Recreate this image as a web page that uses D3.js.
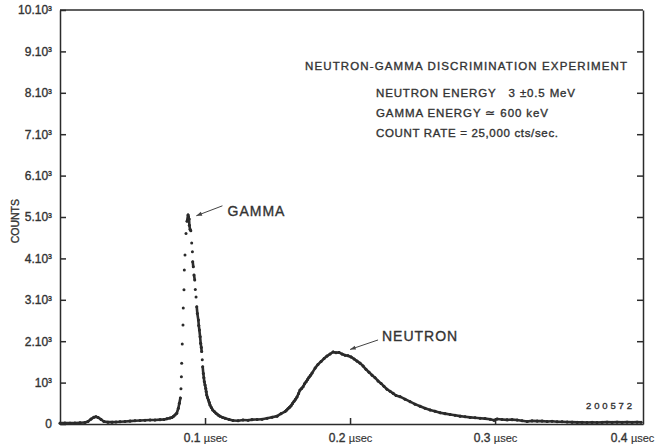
<!DOCTYPE html>
<html>
<head>
<meta charset="utf-8">
<script src="https://cdn.jsdelivr.net/npm/d3@7"></script>
<style>
  body { margin: 0; background: #fff; }
  svg { display: block; }
  text { font-family: "Liberation Sans", Arial, sans-serif; fill: #333; stroke: #333; stroke-width: 0.35px; }
</style>
</head>
<body>
<div id="chart"></div>
<script>
// time of flight (µsec) and counts per channel
const timeUs = [
  0.0000, 0.0034, 0.0069, 0.0103, 0.0138, 0.0172, 0.0193, 0.0214, 0.0234, 0.0248,
  0.0262, 0.0283, 0.0303, 0.0331, 0.0359, 0.0386, 0.0414, 0.0448, 0.0483, 0.0517,
  0.0552, 0.0586, 0.0621, 0.0655, 0.0690, 0.0717, 0.0738, 0.0759, 0.0772, 0.0781,
  0.0793, 0.0805, 0.0816, 0.0823, 0.0830, 0.0834, 0.0837, 0.0839, 0.0843, 0.0848,
  0.0850, 0.0855, 0.0857, 0.0862, 0.0869, 0.0876, 0.0883, 0.0886, 0.0890, 0.0892,
  0.0897, 0.0902, 0.0908, 0.0913, 0.0915, 0.0919, 0.0924, 0.0929, 0.0933, 0.0938,
  0.0943, 0.0947, 0.0954, 0.0957, 0.0961, 0.0966, 0.0970, 0.0974, 0.0977, 0.0981,
  0.0984, 0.0988, 0.0992, 0.0995, 0.1000, 0.1005, 0.1008, 0.1012, 0.1017, 0.1023,
  0.1029, 0.1034, 0.1043, 0.1053, 0.1064, 0.1076, 0.1090, 0.1103, 0.1121, 0.1138,
  0.1166, 0.1193, 0.1228, 0.1262, 0.1297, 0.1324, 0.1359, 0.1393, 0.1428, 0.1462,
  0.1497, 0.1524, 0.1552, 0.1562, 0.1572, 0.1583, 0.1593, 0.1603, 0.1614, 0.1624,
  0.1634, 0.1645, 0.1655, 0.1666, 0.1676, 0.1686, 0.1697, 0.1707, 0.1717, 0.1728,
  0.1738, 0.1759, 0.1779, 0.1800, 0.1821, 0.1841, 0.1862, 0.1883, 0.1903,
  0.1924, 0.1945, 0.1966, 0.1986, 0.2007, 0.2028, 0.2048, 0.2069, 0.2090, 0.2110,
  0.2131, 0.2152, 0.2172, 0.2193, 0.2214, 0.2234, 0.2255, 0.2276, 0.2297, 0.2317,
  0.2345, 0.2379, 0.2414, 0.2448, 0.2483, 0.2517, 0.2552, 0.2586, 0.2621, 0.2655,
  0.2690, 0.2724, 0.2759, 0.2793, 0.2828, 0.2862, 0.2897, 0.2931, 0.2966, 0.2993,
  0.3014, 0.3048, 0.3083, 0.3117, 0.3152, 0.3186, 0.3221, 0.3255, 0.3290, 0.3324,
  0.3359, 0.3393, 0.3428, 0.3462, 0.3497, 0.3531, 0.3566, 0.3600, 0.3634, 0.3669,
  0.3703, 0.3738, 0.3772, 0.3807, 0.3841, 0.3876, 0.3910, 0.3945, 0.3979, 0.4007
];
const counts = [
    20,   25,   20,   25,   30,   35,   60,  120,  165,  175,
   160,  110,   60,   45,   45,   50,   55,   60,   70,   80,
    85,   90,   95,   95,  105,  110,  125,  145,  160,  180,
   220,  260,  380,  500,  630,  850, 1140, 1470, 1930, 2390,
  2800, 3240, 3720, 4080, 4600, 4900, 5050, 5000, 4950, 4800,
  4700, 4670, 4370, 4160, 3920, 3800, 3600, 3480, 3250, 3070,
  2830, 2670, 2510, 2380, 2270, 2110, 1950, 1850, 1750, 1550,
  1380, 1220, 1120, 1020,  940,  860,  780,  700,  640,  580,
   520,  460,  400,  340,  300,  260,  220,  190,  160,  140,
   110,   85,   80,   95,   90,  105,  110,  115,  140,  165,
   190,  250,  300,  335,  370,  405,  440,  495,  550,  600,
   650,  735,  820,  860,  900,  970, 1020, 1075, 1130, 1180,
  1230, 1350, 1440, 1510, 1580, 1640, 1690, 1740, 1720,
  1730, 1690, 1660, 1650, 1620, 1570, 1520, 1470, 1400, 1320,
  1250, 1180, 1120, 1040,  980,  910,  840,  790,  740,  690,
   660,  600,  540,  480,  430,  380,  340,  310,  270,  250,
   230,  210,  190,  175,  160,  150,  140,  130,  115,   90,
   120,  110,  100,  105,   95,   80,   60,   75,   70,   70,
    60,   65,   55,   55,   50,   45,   40,   40,   35,   40,
    35,   40,   45,   40,   45,   40,   45,   40,   45,   40
];

const yTickValues = [0, 1000, 2000, 3000, 4000, 5000, 6000, 7000, 8000, 9000, 10000];
const yTickLabels = ["0", "10^3", "2.10^3", "3.10^3", "4.10^3", "5.10^3",
                     "6.10^3", "7.10^3", "8.10^3", "9.10^3", "10.10^3"];
const xTickValues = [0.1, 0.2, 0.3, 0.4];
const xTickLabels = ["0.1", "0.2", "0.3", "0.4"];

const noteTitle = "NEUTRON-GAMMA DISCRIMINATION EXPERIMENT";
const noteLines = ["NEUTRON ENERGY\u00A0\u00A0\u00A03 \u00B10.5 MeV",
                   "GAMMA ENERGY \u2243 600 keV",
                   "COUNT RATE = 25,000 cts/sec."];

const width = 666, height = 444;
const margin = { top: 10, right: 23, bottom: 20, left: 60 };

const svg = d3.select("#chart").append("svg")
    .attr("width", width)
    .attr("height", height);

const x = d3.scaleLinear().domain([0, 0.402]).range([margin.left, width - margin.right]);
const y = d3.scaleLinear().domain([0, 10000]).range([height - margin.bottom, margin.top]);

const points = timeUs.map((t, i) => ({ t: t, c: counts[i] }));

// frame: top line
svg.append("line")
    .attr("x1", x(0)).attr("x2", x(0.402))
    .attr("y1", y(10000)).attr("y2", y(10000))
    .attr("stroke", "#2b2b2b").attr("stroke-width", 1.5);

// left axis, ticks pointing inward
const yAxis = svg.append("g")
    .attr("transform", `translate(${x(0)},0)`)
    .call(d3.axisLeft(y).tickValues(yTickValues).tickSize(-6).tickSizeOuter(0).tickPadding(8));
yAxis.selectAll(".tick text").each(function (d, i) {
    const el = d3.select(this);
    const parts = yTickLabels[i].split("^");
    el.text(parts[0]);
    if (parts[1]) el.append("tspan").attr("dy", "-0.5em").attr("font-size", "7px").text(parts[1]);
});
yAxis.selectAll("text").attr("font-size", "12px").attr("fill", "#333");

// right axis, no labels
svg.append("g")
    .attr("transform", `translate(${x(0.402)},0)`)
    .call(d3.axisRight(y).tickValues(yTickValues.slice(1, -1)).tickSize(-6).tickSizeOuter(0).tickFormat(""));

// bottom axis
const xAxis = svg.append("g")
    .attr("transform", `translate(0,${y(0)})`)
    .call(d3.axisBottom(x).tickValues(xTickValues).tickSize(-6).tickSizeOuter(0).tickPadding(9));
xAxis.selectAll(".tick text").each(function (d, i) {
    const el = d3.select(this);
    el.text(xTickLabels[i] + " ").attr("font-size", "12px").attr("fill", "#333");
    el.append("tspan").attr("font-size", "11px").attr("stroke-width", 0.15).text("\u00B5sec");
    if (i === xTickLabels.length - 1) el.attr("dx", "-8");
});
xAxis.selectAll(".tick line").filter((d, i) => i === xTickValues.length - 1).remove();

svg.selectAll(".domain, .tick line").attr("stroke", "#2b2b2b").attr("stroke-width", 1.5);

// COUNTS label
svg.append("text")
    .attr("transform", `translate(19,${y(4900)}) rotate(-90)`)
    .attr("text-anchor", "middle")
    .attr("font-size", "10.5px")
    .text("COUNTS");

// spectrum: join neighbouring channels that sit close together, then the dots
const segs = d3.pairs(points).filter(([a, b]) =>
    Math.hypot(x(b.t) - x(a.t), y(b.c) - y(a.c)) < 7);
svg.append("g").selectAll("line").data(segs).join("line")
    .attr("x1", d => x(d[0].t)).attr("y1", d => y(d[0].c))
    .attr("x2", d => x(d[1].t)).attr("y2", d => y(d[1].c))
    .attr("stroke", "#2e2e2e").attr("stroke-width", 2.6).attr("stroke-linecap", "round");
svg.append("g").selectAll("circle").data(points).join("circle")
    .attr("cx", d => x(d.t)).attr("cy", d => y(d.c))
    .attr("r", 1.5).attr("fill", "#2a2a2a");

// GAMMA / NEUTRON call-outs
function callout(label, tx, ty, fromT, fromC, toT, toC) {
    const x1 = x(fromT), y1 = y(fromC), x2 = x(toT), y2 = y(toC);
    svg.append("line").attr("x1", x1).attr("y1", y1).attr("x2", x2).attr("y2", y2)
        .attr("stroke", "#444").attr("stroke-width", 1);
    const a = Math.atan2(y2 - y1, x2 - x1);
    const head = [[x2, y2],
        [x2 - 6 * Math.cos(a - 0.35), y2 - 6 * Math.sin(a - 0.35)],
        [x2 - 6 * Math.cos(a + 0.35), y2 - 6 * Math.sin(a + 0.35)]];
    svg.append("path").attr("d", "M" + head.join("L") + "Z").attr("fill", "#444");
    svg.append("text").attr("x", x(tx)).attr("y", y(ty))
        .attr("font-size", "14px").attr("letter-spacing", "1px").text(label);
}
callout("GAMMA", 0.1155, 5020, 0.1120, 5270, 0.0940, 5030);
callout("NEUTRON", 0.2220, 2010, 0.2193, 2030, 0.2000, 1800);

// experiment notes
svg.append("text").attr("x", 305).attr("y", 70)
    .attr("font-size", "11.5px").attr("textLength", 322).attr("lengthAdjust", "spacing")
    .text(noteTitle);
const noteWidths = [199, 172, 182];
svg.selectAll(".note").data(noteLines).join("text")
    .attr("class", "note")
    .attr("x", 376).attr("y", (d, i) => 97 + i * 20)
    .attr("font-size", "11.5px")
    .attr("textLength", (d, i) => noteWidths[i]).attr("lengthAdjust", "spacing")
    .text(d => d);

// plate number
svg.append("text").attr("x", 586).attr("y", 409)
    .attr("font-family", "Liberation Serif, serif").attr("font-size", "9.5px")
    .attr("stroke-width", 0.1)
    .attr("textLength", 46).attr("lengthAdjust", "spacing")
    .text("200572");
</script>
</body>
</html>
